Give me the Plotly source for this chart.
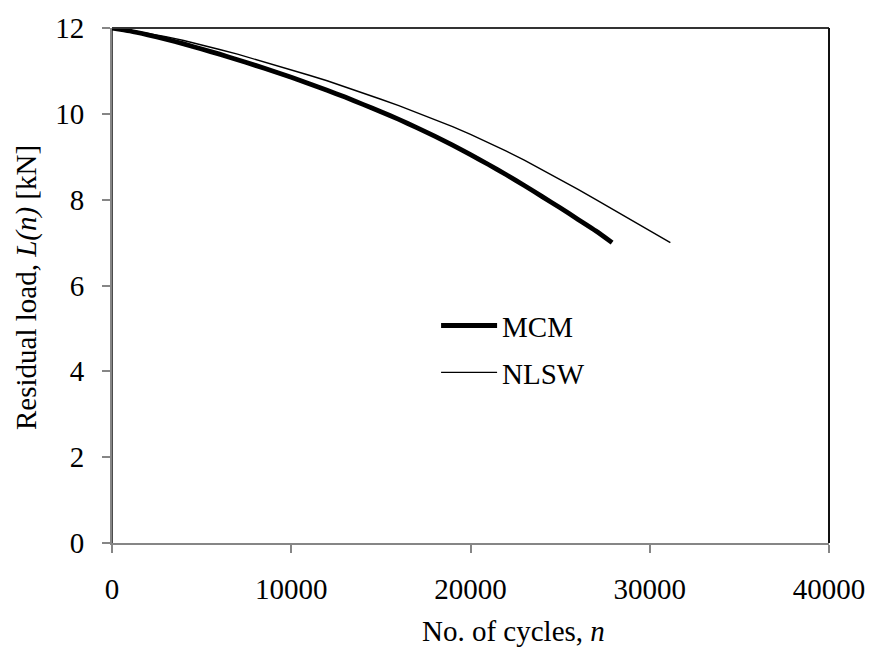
import plotly.graph_objects as go

# Data
mcm_n = [0, 1000, 2000, 3000, 4000, 5000, 6000, 7000, 8000, 9000, 10000, 11000, 12000, 13000,
         14000, 15000, 16000, 17000, 18000, 19000, 20000, 21000, 22000, 23000, 24000, 25000,
         26000, 27000, 27900]
mcm_L = [12.0, 11.93, 11.84, 11.74, 11.63, 11.51, 11.39, 11.26, 11.13, 10.99, 10.85, 10.70,
         10.55, 10.39, 10.22, 10.05, 9.87, 9.68, 9.48, 9.27, 9.05, 8.82, 8.58, 8.33, 8.07,
         7.81, 7.54, 7.27, 7.0]

nlsw_n = [0, 0, 1000, 2000, 3000, 4000, 5000, 6000, 7000, 8000, 9000, 10000, 11000, 12000,
          13000, 14000, 15000, 16000, 17000, 18000, 19000, 20000, 21000, 22000, 23000, 24000,
          25000, 26000, 27000, 28000, 29000, 30000, 31150]
nlsw_L = [0.0, 12.0, 11.95, 11.88, 11.80, 11.71, 11.61, 11.50, 11.39, 11.27, 11.15, 11.03,
          10.90, 10.77, 10.63, 10.49, 10.34, 10.19, 10.03, 9.87, 9.70, 9.52, 9.33, 9.13,
          8.92, 8.70, 8.47, 8.24, 8.00, 7.76, 7.51, 7.27, 7.0]

x_ticks = [0, 10000, 20000, 30000, 40000]
y_ticks = [0, 2, 4, 6, 8, 10, 12]
x_title = "No. of cycles, <i>n</i>"
y_title = "Residual load, <i>L(n)</i> [kN]"

FONT = "Liberation Serif"
FS = 29
GRAY = "#868686"

fig = go.Figure()
fig.add_trace(go.Scatter(x=mcm_n, y=mcm_L, mode="lines", name="MCM",
                         line=dict(color="black", width=4.8, shape="spline", smoothing=0.6),
                         legend="legend"))
fig.add_trace(go.Scatter(x=nlsw_n, y=nlsw_L, mode="lines", name="NLSW",
                         line=dict(color="black", width=1.4), legend="legend2"))

legend_common = dict(font=dict(family=FONT, size=FS, color="black"),
                     bgcolor="rgba(0,0,0,0)", itemwidth=56,
                     xanchor="left", yanchor="middle", borderwidth=0)

fig.update_layout(
    width=877, height=656,
    margin=dict(l=112, r=40, t=17, b=113),
    paper_bgcolor="white", plot_bgcolor="white",
    font=dict(family=FONT, size=FS, color="black"),
    showlegend=True,
    legend=dict(x=0.452, y=0.422, **legend_common),
    legend2=dict(x=0.452, y=0.331, **legend_common),
    xaxis=dict(range=[0, 40000], tickvals=x_ticks, ticktext=[str(v) for v in x_ticks],
               showgrid=False, zeroline=False, showline=True, linecolor=GRAY, linewidth=2,
               ticks="outside", ticklen=8, tickcolor=GRAY, tickwidth=2,
               ticklabelstandoff=11,
               tickfont=dict(family=FONT, size=FS, color="black")),
    yaxis=dict(range=[0, 12], tickvals=y_ticks, ticktext=[str(v) for v in y_ticks],
               showgrid=False, zeroline=False, showline=True, linecolor=GRAY, linewidth=2,
               ticks="outside", ticklen=8, tickcolor=GRAY, tickwidth=2,
               ticklabelstandoff=12,
               tickfont=dict(family=FONT, size=FS, color="black")),
    annotations=[
        dict(text=x_title, xref="paper", yref="paper", x=0.56, y=-0.171,
             xanchor="center", yanchor="middle", showarrow=False,
             font=dict(family=FONT, size=FS, color="black")),
        dict(text=y_title, xref="paper", yref="paper", x=-0.12, y=0.497,
             xanchor="center", yanchor="middle", textangle=-90, showarrow=False,
             font=dict(family=FONT, size=FS, color="black")),
    ],
    shapes=[
        dict(type="line", xref="paper", yref="paper", x0=0, x1=1, y0=1, y1=1,
             line=dict(color="#333333", width=2), layer="above"),
        dict(type="line", xref="paper", yref="paper", x0=1, x1=1, y0=0, y1=1,
             line=dict(color="#111111", width=2), layer="above"),
    ],
)

fig.write_html("out.html")
